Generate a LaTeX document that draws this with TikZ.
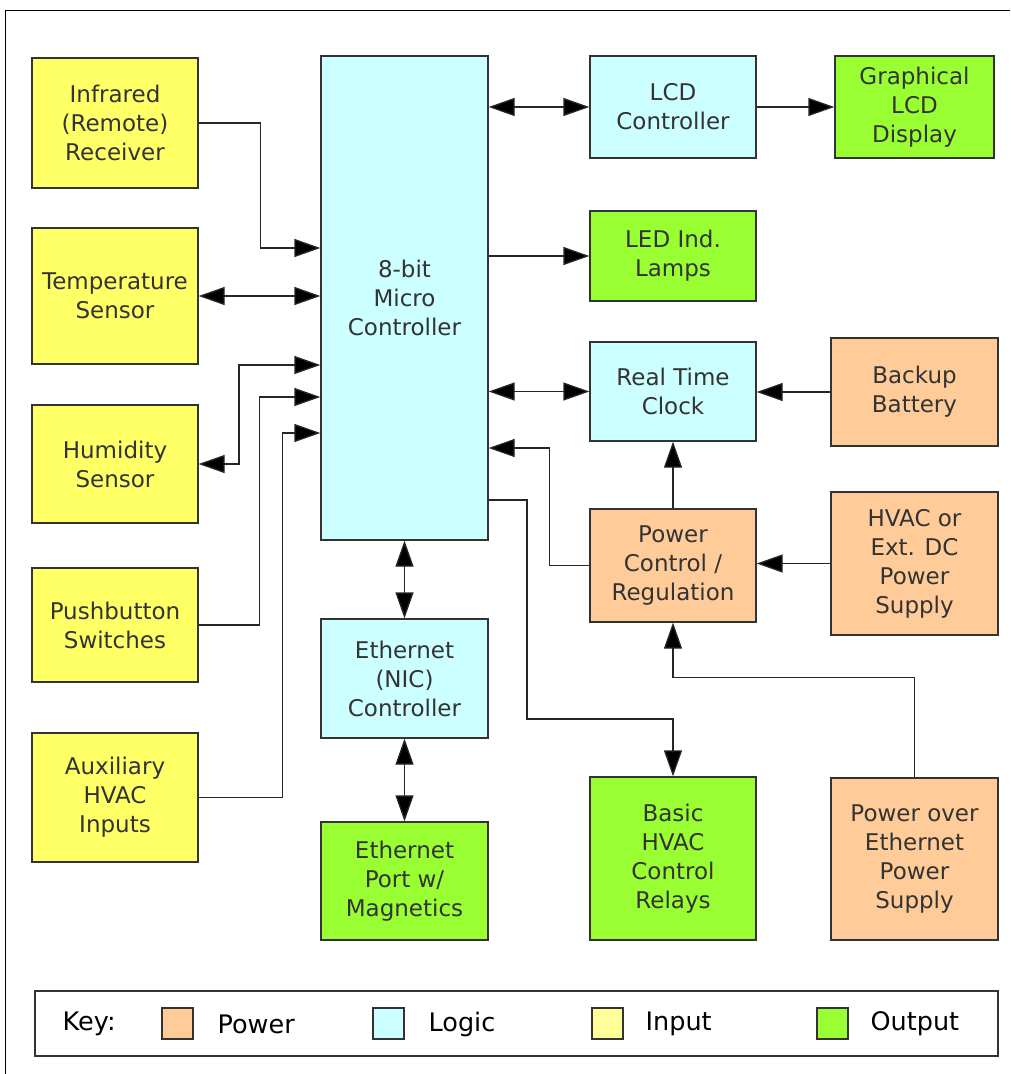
\documentclass[tikz,border=0pt]{standalone}
\usepackage{fontspec}
\setmainfont{DejaVu Sans}
\usetikzlibrary{arrows.meta}

\definecolor{inC}{HTML}{FFFF66}
\definecolor{inKeyC}{HTML}{FFFF99}
\definecolor{logC}{HTML}{CCFFFF}
\definecolor{outC}{HTML}{99FF33}
\definecolor{pwrC}{HTML}{FFCC99}
\definecolor{lineC}{HTML}{333333}

\tikzset{	blk/.style={draw=lineC,line width=1.3pt,minimum width=166pt,inner sep=0pt,
				align=center,text=lineC,font=\fontsize{23}{29}\selectfont},
		inbox/.style={blk,fill=inC},
		logbox/.style={blk,fill=logC},
		outbox/.style={blk,fill=outC},
		pwrbox/.style={blk,fill=pwrC},
		wire/.style={draw=black!85,line width=1.3pt},
		swatch/.style={draw=lineC,line width=1.3pt,minimum width=31pt,minimum height=31pt,inner sep=0pt},
		keytxt/.style={anchor=west,inner sep=0pt,text=black,font=\fontsize{25.5}{28}\selectfont}
		}

\begin{document}
\begin{tikzpicture}[>={Triangle[length=26pt,width=18pt,fill=black]}, x=1pt, y=-1pt, line width=1.3pt]

	\useasboundingbox (0,0) rectangle (1010,1074);
	\draw[black,line width=1pt] (1010,10)--(5,10)--(5,1074);

	% inputs
	\node[inbox,minimum height=130pt] (ir) at (115,123) {Infrared\\(Remote)\\Receiver};
	\node[inbox,minimum height=136pt] (ts) at (115,296) {Temperature\\Sensor};
	\node[inbox,minimum height=118pt] (hs) at (115,464) {Humidity\\Sensor};
	\node[inbox,minimum height=114pt] (pb) at (115,625) {Pushbutton\\Switches};
	\node[inbox,minimum height=129pt] (ax) at (115,797.5) {Auxiliary\\HVAC\\Inputs};

	% logic
	\node[logbox,minimum width=167pt,minimum height=484pt] (mc) at (404.5,298) {8-bit\\Micro\\Controller};
	\node[logbox,minimum width=167pt,minimum height=119pt] (nic) at (404.5,678.5) {Ethernet\\(NIC)\\Controller};
	\node[logbox,minimum height=102pt] (lcd) at (673,107) {LCD\\Controller};
	\node[logbox,minimum height=99pt] (rtc) at (673,391.5) {Real Time\\Clock};

	% outputs
	\node[outbox,minimum width=167pt,minimum height=118pt] (port) at (404.5,881) {Ethernet\\Port w/\\Magnetics};
	\node[outbox,minimum width=159pt,minimum height=102pt] (glcd) at (914.5,107) {Graphical\\LCD\\Display};
	\node[outbox,minimum height=90pt] (led) at (673,256) {LED Ind.\\Lamps};
	\node[outbox,minimum height=163pt] (relay) at (673,858.5) {Basic\\HVAC\\Control\\Relays};

	% power
	\node[pwrbox,minimum width=167pt,minimum height=108pt] (bat) at (914.5,392) {Backup\\Battery};
	\node[pwrbox,minimum height=113pt] (pwr) at (673,565.5) {Power\\Control /\\Regulation};
	\node[pwrbox,minimum width=167pt,minimum height=143pt] (dc) at (914.5,563.5) {HVAC or\\Ext. DC\\Power\\Supply};
	\node[pwrbox,minimum width=167pt,minimum height=162pt] (poe) at (914.5,859) {Power over\\Ethernet\\Power\\Supply};

	% connectors left side
	\draw[->,wire] (ir.east)--++(62,0) |- (mc.west |- 0,248);
	\draw[<->,wire] (ts.east)--(ts.east -| mc.west);
	\draw[<->,wire] (hs.east)--(239,464) |- (mc.west |- 0,365);
	\draw[->,wire] (pb.east)--++(61,0) |- (mc.west |- 0,397);
	\draw[->,wire] (ax.east)--++(84,0) |- (mc.west |- 0,433);

	% connectors right side
	\draw[<->,wire] (mc.east |- lcd.west)--(lcd.west);
	\draw[->,wire] (lcd.east)--(glcd.west);
	\draw[->,wire] (mc.east |- led.west)--(led.west);
	\draw[<->,wire] (mc.east |- rtc.west)--(rtc.west);
	\draw[->,wire] (bat.west)--(bat.west -| rtc.east);
	\draw[->,wire] (pwr.north)--(rtc.south);
	\draw[->,wire] (pwr.west)--++(-40,0) |- (mc.east |- 0,448);
	\draw[->,wire] (mc.east |- 0,500) -| (527,719) -| (relay.north);
	\draw[->,wire] (dc.west)--(dc.west -| pwr.east);
	\draw[->,wire] (poe.north)--++(0,-100) -| (pwr.south);

	% ethernet
	\draw[<->,wire] (mc.south)--(nic.north);
	\draw[<->,wire] (nic.south)--(port.north);

	% key
	\node[draw=lineC,line width=1.3pt,fill=white,minimum width=963pt,minimum height=65pt,inner sep=0pt] (key) at (516.5,1023.5) {};
	\node[keytxt] (keyl) at (62,1024) {Key:};
	\node[swatch,fill=pwrC] (kpwr) at (177.5,1023.5) {};
	\node[keytxt] (kpwrl) at (217,1024) {Power};
	\node[swatch,fill=logC] (klog) at (388.5,1023.5) {};
	\node[keytxt] (klogl) at (428,1024) {Logic};
	\node[swatch,fill=inKeyC] (kin) at (607.5,1023.5) {};
	\node[keytxt] (kinl) at (645,1024) {Input};
	\node[swatch,fill=outC] (kout) at (832.5,1023.5) {};
	\node[keytxt] (koutl) at (870,1024) {Output};
\end{tikzpicture}
\end{document}
